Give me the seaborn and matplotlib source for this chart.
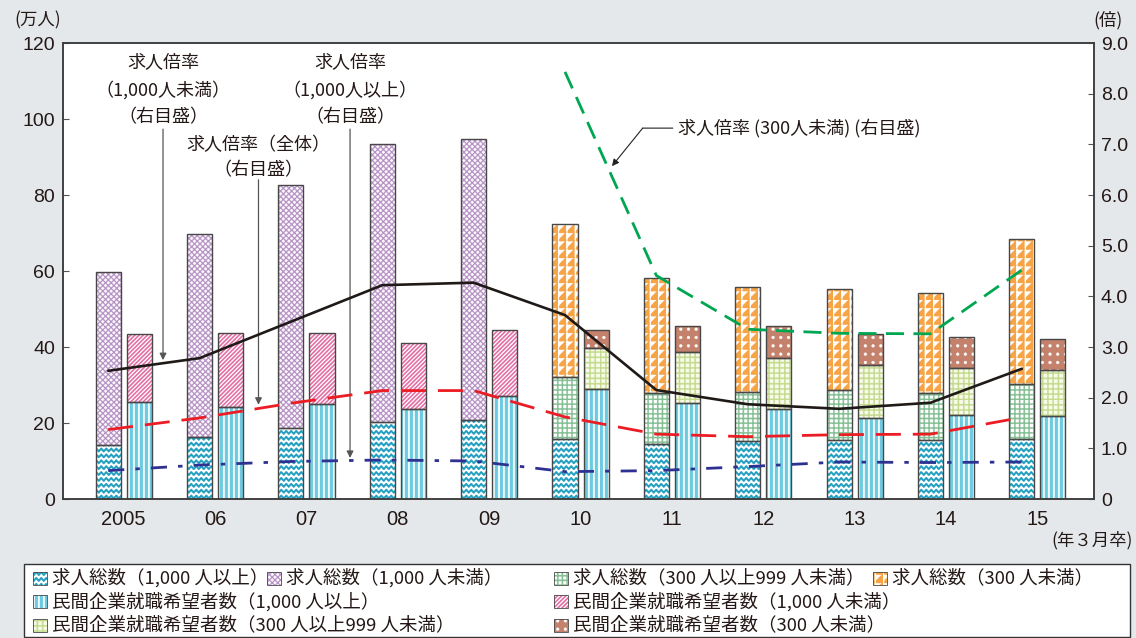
import warnings
warnings.filterwarnings("ignore")

import numpy as np
import matplotlib
matplotlib.use("Agg")
import matplotlib.pyplot as plt
import matplotlib.hatch as mhatch
from matplotlib.path import Path
from matplotlib.patches import Rectangle
import seaborn as sns

# ---------------------------------------------------------------- data
years = ["2005", "06", "07", "08", "09", "10", "11", "12", "13", "14", "15"]

# 求人総数 (万人)
jobs_1000plus = [14.2, 16.3, 18.7, 20.3, 20.8, 15.9, 14.4, 15.2, 15.5, 15.4, 15.9]
jobs_under1000 = [45.5, 53.4, 63.9, 73.0, 74.0]            # 2005-09
jobs_300_999 = [16.3, 13.4, 13.0, 13.2, 12.6, 14.4]         # 2010-15
jobs_under300 = [40.3, 30.4, 27.7, 26.6, 26.3, 38.1]        # 2010-15

# 民間企業就職希望者数 (万人)
seekers_1000plus = [25.5, 24.2, 25.0, 23.7, 27.1, 29.0, 25.2, 23.6, 21.2, 22.1, 21.9]
seekers_under1000 = [17.9, 19.5, 18.7, 17.3, 17.4]          # 2005-09
seekers_300_999 = [10.8, 13.4, 13.6, 14.0, 12.3, 12.0]      # 2010-15
seekers_under300 = [4.8, 6.9, 8.2, 8.1, 8.1, 8.3]           # 2010-15

# 求人倍率 (倍)
ratio_total = [1.37, 1.60, 1.89, 2.14, 2.14, 1.62, 1.28, 1.23, 1.27, 1.28, 1.61]
ratio_under1000 = [2.53, 2.78, 3.50, 4.22, 4.27, 3.63, 2.15, 1.87, 1.78, 1.90, 2.57]
ratio_1000plus = [0.56, 0.67, 0.74, 0.77, 0.75, 0.54, 0.56, 0.64, 0.73, 0.72, 0.73]
ratio_under300 = [8.43, 4.41, 3.35, 3.27, 3.26, 4.52]       # 2010-15

# ------------------------------------------------------ hatch patterns
# Filled-shape patterns on a 100 px hatch tile (figure dpi = 100).
PX = 0.01


def _rect(x0, y0, x1, y1):
    return np.array([(x0, y0), (x1, y0), (x1, y1), (x0, y1)])


def _waves():
    polys = []
    rows, periods, amp, thick = 17, 20, 1.1 * PX, 2.3 * PX
    xs = np.linspace(0, 1, periods * 8 + 1)
    for i in range(rows):
        yc = (i + 0.5) / rows
        ys = yc + amp * np.sin(2 * np.pi * periods * xs)
        bottom = np.column_stack([xs, ys - thick / 2])
        top = np.column_stack([xs[::-1], ys[::-1] + thick / 2])
        polys.append(np.vstack([bottom, top]))
    return polys


def _diagonal(n, thick, up=True, down=False):
    polys = []
    for k in range(-n, 2 * n + 1):
        c = k / n
        if up:
            polys.append(np.array([(0, c), (1, c + 1), (1, c + 1 + thick), (0, c + thick)]))
        if down:
            polys.append(np.array([(0, c), (1, c - 1), (1, c - 1 + thick), (0, c + thick)]))
    return polys


def _stripes(n, width):
    return [_rect(i / n, -0.01, i / n + width, 1.01) for i in range(n)]


def _grid(n, thick):
    polys = []
    for i in range(n):
        p = i / n
        polys.append(_rect(p, -0.01, p + thick, 1.01))
        polys.append(_rect(-0.01, p, 1.01, p + thick))
    return polys


def _triangles(n):
    polys = []
    c = 1.0 / n
    leg = 0.72 * c
    for i in range(n):
        for j in range(n):
            x0, y0 = i * c, j * c
            polys.append(np.array([(x0, y0 + c - leg), (x0 + leg, y0 + c), (x0, y0 + c)]))
            polys.append(_rect(x0, y0, x0 + 0.6 * PX, y0 + c))
    return polys


def _dots(nx, ny, r):
    polys = []
    t = np.linspace(0, 2 * np.pi, 13)[:-1]
    circ = np.column_stack([np.cos(t), np.sin(t)]) * r
    for i in range(nx):
        for j in range(ny):
            polys.append(circ + ((i + 0.5) / nx, (j + 0.5) / ny))
    return polys


def _register(key, polys):
    class _Pattern(mhatch.HatchPatternBase):
        def __init__(self, hatch, density):
            self.num_vertices = sum(len(p) + 1 for p in polys) if key in hatch else 0

        def set_vertices_and_codes(self, vertices, codes):
            i = 0
            for p in polys:
                n = len(p)
                vertices[i:i + n] = p
                vertices[i + n] = p[0]
                codes[i] = Path.MOVETO
                codes[i + 1:i + n] = Path.LINETO
                codes[i + n] = Path.CLOSEPOLY
                i += n + 1

    mhatch._hatch_types.append(_Pattern)


_register("w", _waves())
_register("l", _diagonal(18, 1.1 * PX, up=True, down=True))
_register("v", _stripes(20, 2.9 * PX))
_register("d", _diagonal(24, 1.6 * PX, up=True))
_register("g", _grid(21, 1.1 * PX))
_register("y", _grid(19, 1.1 * PX))
_register("t", _triangles(12))
_register("p", _dots(13, 12, 1.4 * PX))

# (face colour, hatch key, hatch colour)
STYLE = {
    "jobs_1000plus": ("white", "w", "#1e9dbf"),
    "jobs_under1000": ("#fbf8fc", "l", "#b591c3"),
    "jobs_300_999": ("white", "g", "#84bf94"),
    "jobs_under300": ("#f6a446", "t", "white"),
    "seekers_1000plus": ("white", "v", "#6ccbe0"),
    "seekers_under1000": ("white", "d", "#e2659f"),
    "seekers_300_999": ("#f8fbea", "y", "#c4da8e"),
    "seekers_under300": ("#c4826d", "p", "white"),
}

OUTLINE = "#474747"
TXT = "#231815"

# --------------------------------------------------------------- figure
W, H = 1136, 638
sns.set_theme(style="white")
plt.rcParams["font.family"] = ["Noto Sans CJK JP", "DejaVu Sans"]
plt.rcParams["hatch.linewidth"] = 0.3

fig = plt.figure(figsize=(W / 100, H / 100), dpi=100)
fig.patch.set_facecolor("#e4e8eb")
ax = fig.add_axes([62.7 / W, 1 - 499 / H, (1094 - 62.7) / W, (499 - 43) / H])
ax.set_facecolor("white")
ax2 = ax.twinx()

pos = np.arange(len(years))
OFF, BW = 0.17, 0.275
x_jobs = pos - OFF
x_seek = pos + OFF


def stack(xs, heights, bottom, style_key):
    face, key, hcolor = STYLE[style_key]
    ax.bar(xs, heights, BW, bottom=bottom, color=face, edgecolor=hcolor,
           linewidth=0, hatch=key, zorder=2)
    ax.bar(xs, heights, BW, bottom=bottom, facecolor="none",
           edgecolor=OUTLINE, linewidth=1.0, zorder=3)


jl = np.array(jobs_1000plus)
stack(x_jobs, jl, 0, "jobs_1000plus")
stack(x_jobs[:5], jobs_under1000, jl[:5], "jobs_under1000")
stack(x_jobs[5:], jobs_300_999, jl[5:], "jobs_300_999")
stack(x_jobs[5:], jobs_under300, jl[5:] + np.array(jobs_300_999), "jobs_under300")

sl = np.array(seekers_1000plus)
stack(x_seek, sl, 0, "seekers_1000plus")
stack(x_seek[:5], seekers_under1000, sl[:5], "seekers_under1000")
stack(x_seek[5:], seekers_300_999, sl[5:], "seekers_300_999")
stack(x_seek[5:], seekers_under300, sl[5:] + np.array(seekers_300_999), "seekers_under300")


def rate_line(xs, ys, color, lw, dashes=None):
    sns.lineplot(x=xs, y=ys, ax=ax2, color=color, linewidth=lw, sort=False, zorder=4)
    line = ax2.lines[-1]
    if dashes:
        line.set_dashes(dashes)
    line.set_dash_capstyle("butt")
    line.set_solid_capstyle("round")


rate_line(x_jobs, ratio_1000plus, "#2e3192", 2.0, (5.8, 4.0, 1.6, 4.0))
rate_line(x_jobs, ratio_total, "#ec1c24", 2.0, (9.0, 4.3))
rate_line(x_jobs, ratio_under1000, "#1f1a17", 1.9)
rate_line(x_jobs[5:], ratio_under300, "#00a651", 2.0, (6.5, 3.4))

# --------------------------------------------------------------- axes
ax.set_xlim(-0.668, 10.62)
ax.set_ylim(0, 120)
ax.set_yticks(range(0, 121, 20))
ax.set_xticks(pos)
ax.set_xticklabels(years)
ax2.set_ylim(0, 9)
ax2.set_yticks(range(10))
ax2.set_yticklabels(["0"] + [f"{v:.1f}" for v in range(1, 10)])
ax.set_xlabel("")
ax.set_ylabel("")
ax2.set_xlabel("")
ax2.set_ylabel("")

ax.tick_params(axis="y", direction="in", left=True, length=4.3, width=0.8,
               color="#555555", pad=5.5, labelsize=14, labelcolor=TXT,
               labelfontfamily="Liberation Sans")
ax.tick_params(axis="x", bottom=True, length=0, pad=8, labelsize=14.5,
               labelcolor=TXT, labelfontfamily="Liberation Sans")
ax2.tick_params(axis="y", direction="in", right=True, length=4.3, width=0.8,
                color="#555555", pad=5, labelsize=14, labelcolor=TXT,
                labelfontfamily="Liberation Sans")
for a in (ax, ax2):
    for sp in a.spines.values():
        sp.set_visible(True)
        sp.set_color("#3c3c3c")
        sp.set_linewidth(1.1)

# ---------------------------------------------------------- annotations
ann = dict(fontsize=13, color=TXT, ha="center", va="center", zorder=6)
arrow = dict(arrowstyle="-|>", color="#555555", lw=0.9, shrinkA=0, shrinkB=0,
             mutation_scale=10)

callouts = [
    (0.430, ["求人倍率", "（1,000人未満）", "（右目盛）"], [8.62, 8.07, 7.54], 7.30, 2.74),
    (1.475, ["求人倍率（全体）", "（右目盛）"], [6.99, 6.49], 6.30, 1.86),
    (2.477, ["求人倍率", "（1,000人以上）", "（右目盛）"], [8.62, 8.07, 7.54], 7.30, 0.81),
]
for xc, lines, ys, y_from, y_to in callouts:
    for s, yv in zip(lines, ys):
        ax2.text(xc, yv, s, **ann)
    ax2.annotate("", xy=(xc, y_to), xytext=(xc, y_from), arrowprops=arrow,
                 annotation_clip=False)

ax2.text(6.066, 7.32, "求人倍率 (300人未満) (右目盛)", fontsize=13, color=TXT,
         ha="left", va="center", zorder=6)
ax2.annotate("", xy=(5.68, 7.32), xytext=(6.01, 7.32),
             arrowprops=dict(arrowstyle="-", color="#222222", lw=0.8, shrinkA=0, shrinkB=0))
ax2.annotate("", xy=(5.344, 6.57), xytext=(5.68, 7.32),
             arrowprops=dict(arrowstyle="-|>", color="#222222", lw=0.8, shrinkA=0,
                             shrinkB=0, mutation_scale=10))

# unit labels
fig.text(38 / W, 1 - 20 / H, "(万人)", fontsize=12.5, color=TXT, ha="center", va="center")
fig.text(1108 / W, 1 - 20 / H, "(倍)", fontsize=12.5, color=TXT, ha="center", va="center")
fig.text(1133 / W, 1 - 540 / H, "(年３月卒)", fontsize=12.5, color=TXT, ha="right", va="center")

# --------------------------------------------------------------- legend
fig.add_artist(Rectangle((24 / W, 1 - 637 / H), (1130 - 24) / W, (637 - 564) / H,
                         transform=fig.transFigure, facecolor="white",
                         edgecolor="#333333", linewidth=1.0))

legend_items = [
    (33, 578, "jobs_1000plus", "求人総数（1,000 人以上）"),
    (267, 578, "jobs_under1000", "求人総数（1,000 人未満）"),
    (554, 578, "jobs_300_999", "求人総数（300 人以上999 人未満）"),
    (873, 578, "jobs_under300", "求人総数（300 人未満）"),
    (33, 601.5, "seekers_1000plus", "民間企業就職希望者数（1,000 人以上）"),
    (554, 601.5, "seekers_under1000", "民間企業就職希望者数（1,000 人未満）"),
    (33, 625, "seekers_300_999", "民間企業就職希望者数（300 人以上999 人未満）"),
    (554, 625, "seekers_under300", "民間企業就職希望者数（300 人未満）"),
]
for px_x, px_y, key, label in legend_items:
    face, hk, hcolor = STYLE[key]
    fig.add_artist(Rectangle((px_x / W, 1 - (px_y + 6.5) / H), 14 / W, 13 / H,
                             transform=fig.transFigure, facecolor=face,
                             edgecolor=hcolor, linewidth=0, hatch=hk))
    fig.add_artist(Rectangle((px_x / W, 1 - (px_y + 6.5) / H), 14 / W, 13 / H,
                             transform=fig.transFigure, facecolor="none",
                             edgecolor=OUTLINE, linewidth=0.6))
    fig.text((px_x + 19) / W, 1 - px_y / H, label, fontsize=13.3, color=TXT,
             ha="left", va="center")

fig.savefig("out.png", dpi=100, facecolor=fig.get_facecolor())
